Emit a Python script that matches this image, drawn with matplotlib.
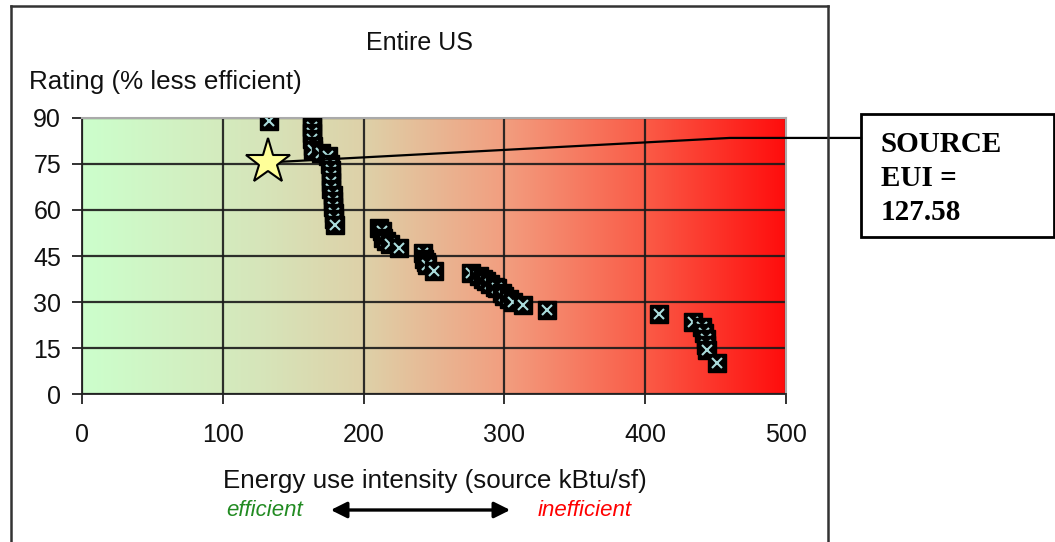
import matplotlib
matplotlib.use("Agg")
import matplotlib.pyplot as plt
import numpy as np
from matplotlib.colors import LinearSegmentedColormap
from matplotlib.patches import Rectangle, FancyArrowPatch
from matplotlib.lines import Line2D

plt.rcParams['font.family'] = ['Liberation Sans', 'DejaVu Sans']

# ---- data ----
eui_values = [133,
              163, 163, 163, 163, 164, 164,
              170, 175, 176, 177, 177, 177, 177, 178, 178, 178, 179, 179, 180,
              211, 213, 214, 216, 219, 225,
              242, 243, 244, 245, 250,
              276, 282, 285, 287, 290, 293, 295, 298, 300, 303, 306, 313, 330,
              410, 434, 440, 442, 443, 443, 444, 451]
rating_values = [89,
                 89, 87, 85, 83, 81, 79.5,
                 78.5, 77.5, 75, 73, 71, 69, 67, 65, 63, 61, 59, 57, 55,
                 54, 53, 51, 50, 49, 47.5,
                 46, 44, 43, 42, 40,
                 39.5, 38.5, 37.5, 37, 36, 35, 34.5, 33, 32, 31, 30, 29, 27.5,
                 26, 23.5, 22, 20, 18, 16, 14.5, 10]
building_eui = 132
building_rating = 75.5
x_ticks = [0, 100, 200, 300, 400, 500]
y_ticks = [0, 15, 30, 45, 60, 75, 90]
title = "Entire US"
y_label = "Rating (% less efficient)"
x_label = "Energy use intensity (source kBtu/sf)"
box_lines = ["SOURCE", "EUI =", "127.58"]

W, H = 1055, 542
fig = plt.figure(figsize=(W / 100, H / 100), dpi=100)
fx = lambda px: px / W
fy = lambda py: 1 - py / H

ax = fig.add_axes([fx(82), fy(394), fx(786) - fx(82), fy(118) - fy(394)])

# gradient background
cmap = LinearSegmentedColormap.from_list(
    "effgrad",
    [(0.0, (0.80, 1.00, 0.80)),
     (0.25, (0.84, 0.90, 0.73)),
     (0.40, (0.87, 0.82, 0.66)),
     (0.60, (0.95, 0.62, 0.50)),
     (0.80, (0.98, 0.36, 0.28)),
     (1.0, (1.00, 0.05, 0.05))])
grad = np.linspace(0, 1, 256).reshape(1, -1)
ax.imshow(grad, extent=[0, 500, 0, 90], aspect='auto', cmap=cmap, zorder=0,
          interpolation='bilinear')

ax.set_xlim(0, 500)
ax.set_ylim(0, 90)
ax.set_xticks(x_ticks)
ax.set_yticks(y_ticks)
ax.grid(True, color='#1a1a1a', linewidth=1.6, alpha=0.9)
ax.set_axisbelow(True)
ax.tick_params(axis='both', direction='out', length=7, width=1.3, color='#222222',
               labelsize=18, labelcolor='#111111')
ax.tick_params(axis='y', pad=8)
ax.tick_params(axis='x', pad=14)
for s in ['left', 'bottom']:
    ax.spines[s].set_color('#222222')
    ax.spines[s].set_linewidth(1.3)
for s in ['top', 'right']:
    ax.spines[s].set_color('#aaaaaa')
    ax.spines[s].set_linewidth(1.5)

# data markers
for i, (xv, yv) in enumerate(zip(eui_values, rating_values)):
    ax.plot(xv, yv, marker='s', markersize=12.5, color='black', linestyle='none',
            zorder=3 + 2 * i)
    ax.plot(xv, yv, marker='x', markersize=6.5, markeredgewidth=1.5,
            color='#aadcdc', linestyle='none', zorder=4 + 2 * i)

# connector line and star
bend_x, bend_y = 460, 83.5
box_left_x = (861 - 82) / ((786 - 82) / 500)
ax.plot([building_eui, bend_x, box_left_x], [building_rating, bend_y, bend_y],
        color='black', linewidth=1.6, clip_on=False, zorder=200)
ax.plot(building_eui, building_rating, marker='*', markersize=34, color='#ffff99',
        markeredgecolor='black', markeredgewidth=1.5, linestyle='none', zorder=201)

# outer chart frame (no bottom edge visible)
for xs, ys in [([11, 11], [6, 545]), ([11, 828], [6, 6]), ([828, 828], [6, 545])]:
    fig.add_artist(Line2D([fx(v) for v in xs], [fy(v) for v in ys], color='#333333',
                          linewidth=1.8, transform=fig.transFigure))

# text
fig.text(fx(419), fy(43), title, ha='center', va='center', fontsize=18, color='#111111')
fig.text(fx(29), fy(82), y_label, ha='left', va='center', fontsize=18.7, color='#111111')
fig.text(fx(435), fy(481), x_label, ha='center', va='center', fontsize=18.7, color='#111111')
fig.text(fx(265), fy(511), "efficient", ha='center', va='center', fontsize=16,
         style='italic', color='#228B22')
fig.text(fx(585), fy(511), "inefficient", ha='center', va='center', fontsize=16,
         style='italic', color='#ff0000')
fig.add_artist(FancyArrowPatch(
    (fx(328), fy(510)), (fx(513), fy(510)), transform=fig.transFigure,
    arrowstyle='<|-|>', mutation_scale=24, color='black', linewidth=2.4))

# annotation box
fig.add_artist(Rectangle((fx(861), fy(237)), fx(1054) - fx(861), fy(114) - fy(237),
                         transform=fig.transFigure, fill=False, edgecolor='black',
                         linewidth=2))
for txt, base in zip(box_lines, [152, 186, 220]):
    fig.text(fx(881), fy(base), txt, ha='left', va='baseline', fontsize=21,
             fontweight='bold', family='Liberation Serif')

fig.savefig("out.png", dpi=100)
